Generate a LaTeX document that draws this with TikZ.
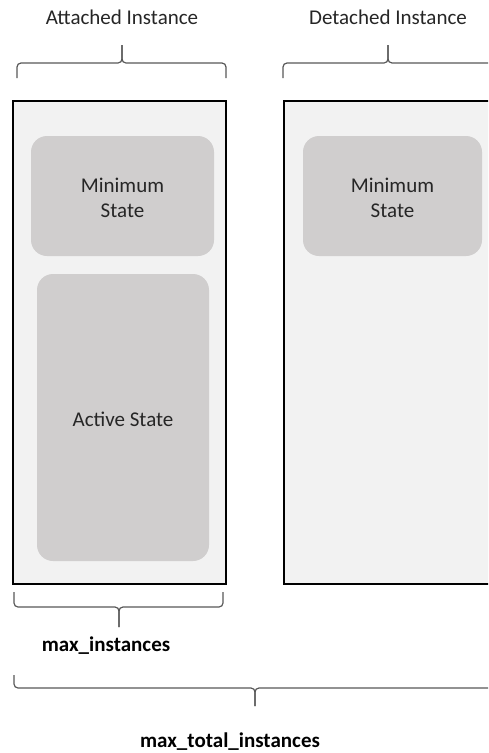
\documentclass[tikz,border=0pt]{standalone}
\usepackage{fontspec}
\setmainfont{Carlito}
\definecolor{outerfill}{HTML}{F2F2F2}
\definecolor{innerfill}{HTML}{D0CECE}
\definecolor{txt}{HTML}{262626}
\definecolor{bracec}{HTML}{595959}
\begin{document}
\begin{tikzpicture}[x=1pt,y=-1pt,
  instbox/.style={draw=black,line width=2pt,fill=outerfill},
  statebox/.style={fill=innerfill,rounded corners=16pt},
  lbl/.style={text=txt,font=\fontsize{21}{25}\selectfont,align=center,inner sep=0pt},
  blbl/.style={text=black,font=\fontsize{21}{25}\selectfont\bfseries,align=center,inner sep=0pt},
  bracepath/.style={draw=bracec,line width=1.2pt,rounded corners=4pt}]
\useasboundingbox (0,0) rectangle (488,753);
\clip (0,0) rectangle (488,753);
\fill[white] (0,0) rectangle (488,753);
% instance boxes
\draw[instbox] (13,101) rectangle (226,584);
\draw[instbox] (284,101) rectangle (510,584);
% state boxes
\fill[statebox] (31,136) rectangle (214,256);
\fill[statebox] (37,274) rectangle (209,561);
\fill[statebox] (303,136) rectangle (482,256);
\node[lbl] (minA) at (122.5,198) {Minimum\\State};
\node[lbl] (act) at (123,419) {Active State};
\node[lbl] (minD) at (392.5,198) {Minimum\\State};
% headings
\node[lbl] (att) at (122,17) {Attached Instance};
\node[lbl] (det) at (388,17) {Detached Instance};
% top braces
\draw[bracepath] (17,78) -- (17,63) -- (122,63) -- (122,45);
\draw[bracepath] (226,78) -- (226,63) -- (122,63) -- (122,45);
\draw[bracepath] (283,78) -- (283,63) -- (388,63) -- (388,45);
\draw[bracepath] (520,63) -- (388,63) -- (388,45);
% bottom braces
\draw[bracepath] (14,592) -- (14,607) -- (119,607) -- (119,627);
\draw[bracepath] (223,592) -- (223,607) -- (119,607) -- (119,627);
\draw[bracepath] (14,675) -- (14,688) -- (255,688) -- (255,706);
\draw[bracepath] (520,688) -- (255,688) -- (255,706);
\node[blbl] (mi) at (106,646) {max\_instances};
\node[blbl] (mti) at (230,742) {max\_total\_instances};
\end{tikzpicture}
\end{document}
